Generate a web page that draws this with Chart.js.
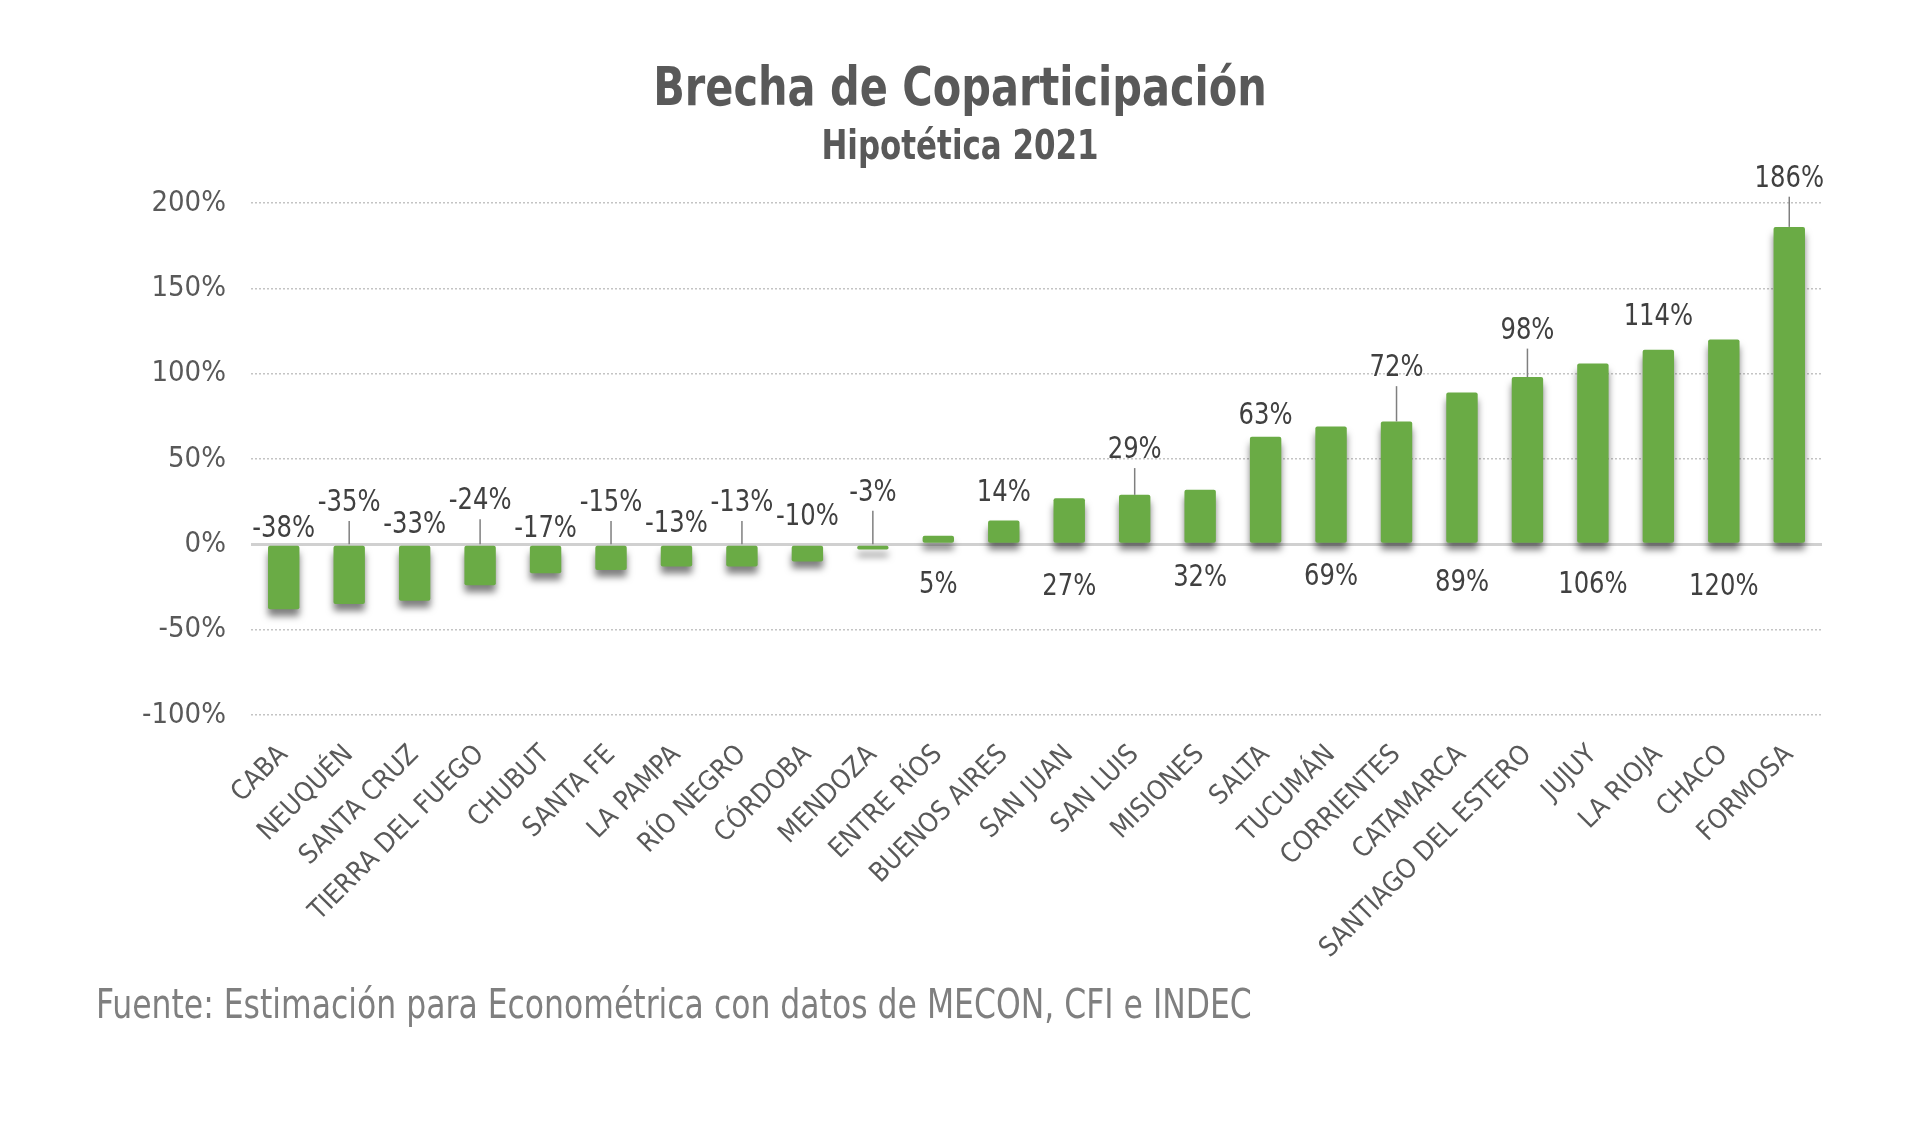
<!DOCTYPE html>
<html>
<head>
<meta charset="utf-8">
<script src="https://cdn.jsdelivr.net/npm/chart.js@4.4.1/dist/chart.umd.min.js"></script>
<style>
    body { margin: 0; background: #fff; }
    #wrap { position: relative; width: 1920px; height: 1128px; }
    .txt {
        position: absolute;
        font-family: 'Liberation Sans Narrow', 'DejaVu Sans Condensed', 'Open Sans', sans-serif;
        white-space: nowrap;
    }
    #title { left: 0; width: 1920px; text-align: center; top: 60px; font-size: 53px; line-height: 53px; font-weight: bold; color: #595959; transform: scaleX(0.87); }
    #subtitle { left: 0; width: 1920px; text-align: center; top: 125px; font-size: 40px; line-height: 40px; font-weight: bold; color: #595959; transform: scaleX(0.86); }
    #source { left: 96px; top: 984px; font-size: 41px; line-height: 41px; color: #7f7f7f; transform: scaleX(0.853); transform-origin: left center; }
</style>
</head>
<body>
<div id="wrap">
    <canvas id="gapChart"></canvas>
    <div class="txt" id="title">Brecha de Coparticipación</div>
    <div class="txt" id="subtitle">Hipotética 2021</div>
    <div class="txt" id="source">Fuente: Estimación para Econométrica con datos de MECON, CFI e INDEC</div>
</div>
<script>
// 省份
const provinces = ['CABA', 'NEUQUÉN', 'SANTA CRUZ', 'TIERRA DEL FUEGO', 'CHUBUT', 'SANTA FE',
    'LA PAMPA', 'RÍO NEGRO', 'CÓRDOBA', 'MENDOZA', 'ENTRE RÍOS', 'BUENOS AIRES', 'SAN JUAN',
    'SAN LUIS', 'MISIONES', 'SALTA', 'TUCUMÁN', 'CORRIENTES', 'CATAMARCA',
    'SANTIAGO DEL ESTERO', 'JUJUY', 'LA RIOJA', 'CHACO', 'FORMOSA'];

// 差距 (%)
const gapValues = [-38, -35, -33, -24, -17, -15, -13, -13, -10, -3, 5, 14, 27, 29, 32,
    63, 69, 72, 89, 98, 106, 114, 120, 186];

// 刻度
const yTicks = [-100, -50, 0, 50, 100, 150, 200];

// 数据标签的位置 (以轴的数值表示)
const labelAt = [9, 24, 11, 25, 9, 24, 12, 24, 16, 30, -24, 30, -25, 55, -20,
    75, -19, 103, -23, 125, -24, 133, -25, 214];

const FONT = "'Liberation Sans Narrow', 'DejaVu Sans Condensed', 'Open Sans', sans-serif";

document.addEventListener('DOMContentLoaded', function() {
    if (typeof Chart === 'undefined') {
        console.error('Chart.js 未加载');
        return;
    }
    initGapChart();
});

// 柱子阴影
const barShadow = {
    id: 'barShadow',
    beforeDatasetDraw(chart) {
        const ctx = chart.ctx;
        ctx.save();
        ctx.shadowColor = 'rgba(0, 0, 0, 0.5)';
        ctx.shadowBlur = 7;
        ctx.shadowOffsetY = 7;
    },
    afterDatasetDraw(chart) {
        chart.ctx.restore();
    }
};

// 数据标签 + 引导线
const valueLabels = {
    id: 'valueLabels',
    afterDatasetsDraw(chart) {
        const ctx = chart.ctx;
        const y = chart.scales.y;
        const bars = chart.getDatasetMeta(0).data;
        const size = 30;
        ctx.save();
        ctx.font = size + 'px ' + FONT;
        ctx.fillStyle = '#404040';
        ctx.textAlign = 'center';
        ctx.textBaseline = 'middle';
        bars.forEach((bar, i) => {
            const v = gapValues[i];
            const ly = y.getPixelForValue(labelAt[i]);
            // 文字稍微压窄
            ctx.save();
            ctx.translate(bar.x, ly);
            ctx.scale(0.9, 1);
            ctx.fillText(v + '%', 0, 0);
            ctx.restore();

            const anchorY = y.getPixelForValue(Math.max(v, 0));
            const textBottom = ly + size * 0.42;
            if (labelAt[i] > 0 && anchorY - textBottom > 24) {
                ctx.strokeStyle = '#7f7f7f';
                ctx.lineWidth = 1.5;
                ctx.beginPath();
                ctx.moveTo(bar.x, textBottom + 5);
                ctx.lineTo(bar.x, anchorY);
                ctx.stroke();
            }
        });
        ctx.restore();
    }
};

function initGapChart() {
    const canvas = document.getElementById('gapChart');
    if (!canvas) return;

    new Chart(canvas, {
        type: 'bar',
        data: {
            labels: provinces,
            datasets: [{
                data: gapValues,
                backgroundColor: '#6AAB45',
                borderRadius: 2,
                borderSkipped: false,
                barPercentage: 0.48,
                categoryPercentage: 1
            }]
        },
        options: {
            responsive: true,
            maintainAspectRatio: false,
            animation: false,
            layout: {
                padding: { top: 203, right: 98, bottom: 0, left: 0 }
            },
            plugins: {
                legend: { display: false },
                tooltip: { enabled: false }
            },
            scales: {
                x: {
                    grid: { display: false },
                    border: { display: false },
                    ticks: {
                        autoSkip: false,
                        maxRotation: 45,
                        minRotation: 45,
                        padding: 16,
                        color: '#595959',
                        font: { family: FONT, size: 27 }
                    },
                    afterFit(scale) { scale.height = 413; }
                },
                y: {
                    min: -100,
                    max: 200,
                    afterBuildTicks(scale) {
                        scale.ticks = yTicks.map(v => ({ value: v }));
                    },
                    grid: {
                        drawTicks: false,
                        color: c => c.tick && c.tick.value === 0 ? '#d0d0d0' : '#c4c4c4',
                        lineWidth: c => c.tick && c.tick.value === 0 ? 3 : 1.5
                    },
                    border: {
                        display: false,
                        dash: c => c.tick && c.tick.value === 0 ? [] : [2, 2]
                    },
                    ticks: {
                        padding: 25,
                        color: '#595959',
                        font: { family: FONT, size: 29 },
                        callback: v => v + '%'
                    },
                    afterFit(scale) { scale.width = 251; }
                }
            }
        },
        plugins: [barShadow, valueLabels]
    });
}
</script>
</body>
</html>
